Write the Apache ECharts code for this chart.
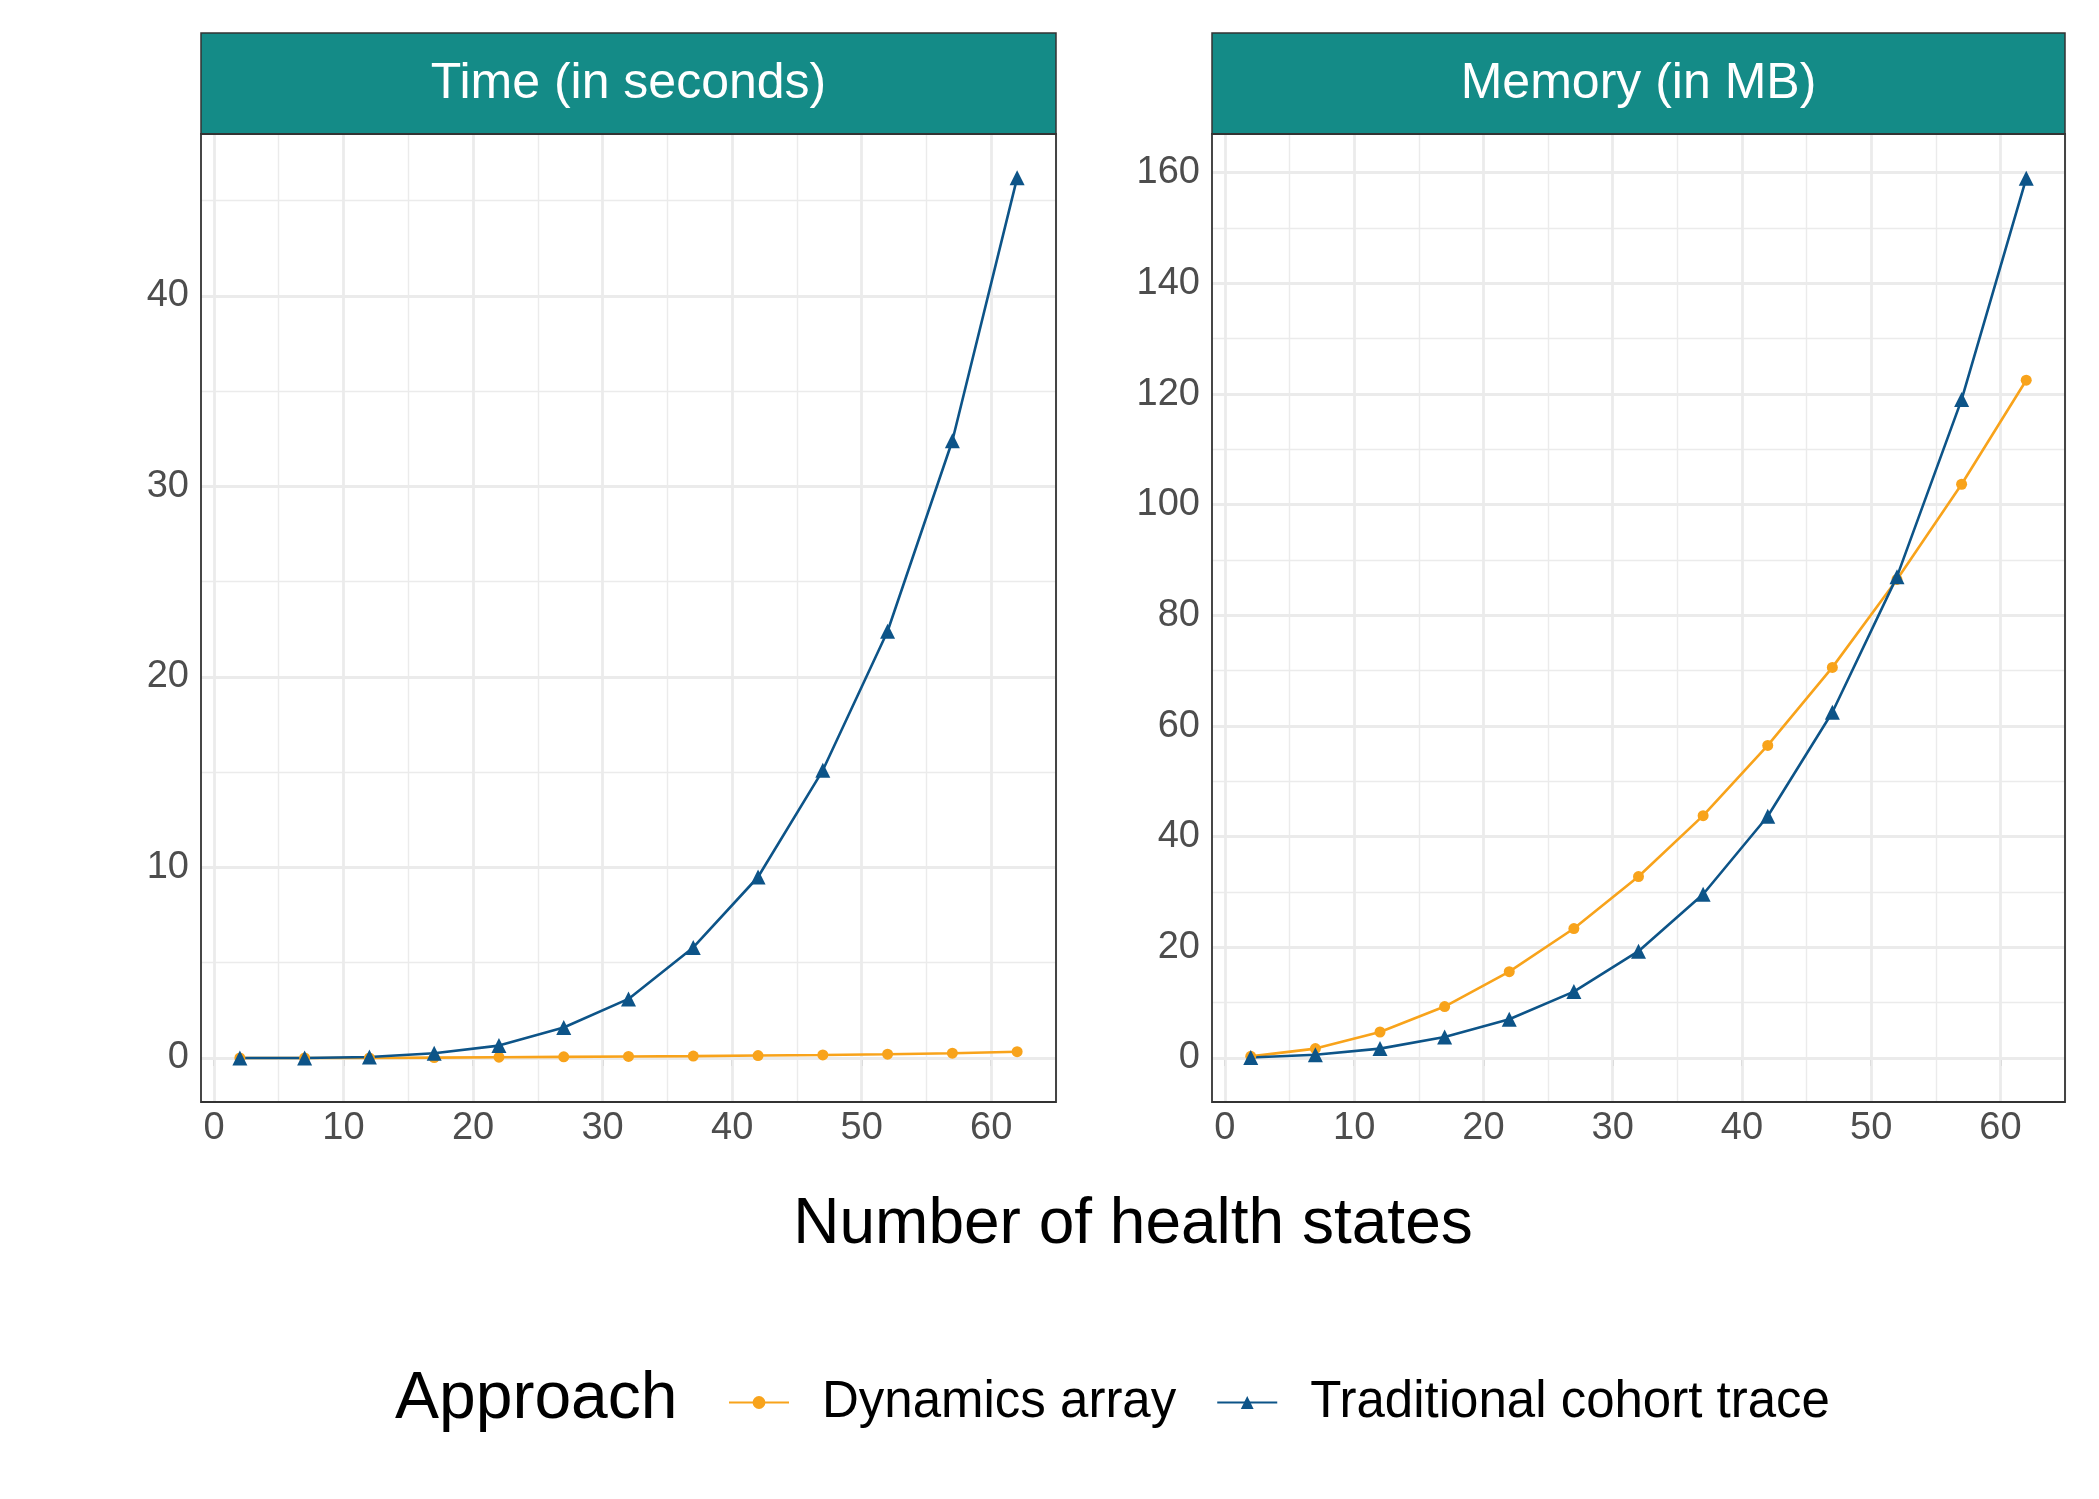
<!DOCTYPE html>
<html><head><meta charset="utf-8">
<script src="https://cdn.jsdelivr.net/npm/echarts@6/dist/echarts.min.js"></script>
<style>html,body{margin:0;background:#fff}#c{width:2099px;height:1499px}</style>
</head><body><div id="c"></div>
<script>
const states = [2,7,12,17,22,27,32,37,42,47,52,57,62];
const timeDyn = [0,0,0,0.02,0.04,0.06,0.08,0.1,0.13,0.16,0.2,0.25,0.33];
const timeTrad = [0,0,0.05,0.25,0.65,1.6,3.1,5.8,9.5,15.1,22.4,32.4,46.2];
const memDyn = [0.3,1.7,4.7,9.3,15.6,23.4,32.8,43.8,56.5,70.6,86.5,103.7,122.5];
const memTrad = [0.1,0.6,1.7,3.8,7,12,19.3,29.6,43.7,62.5,87,119,159];
const xTicks = [0,10,20,30,40,50,60];
const xMinor = [5,15,25,35,45,55,65];
const timeTicks = [0,10,20,30,40];
const timeMinor = [5,15,25,35,45];
const memTicks = [0,20,40,60,80,100,120,140,160];
const memMinor = [10,30,50,70,90,110,130,150];
const panelTitles = ['Time (in seconds)','Memory (in MB)'];
const ORANGE='#F8A31B', BLUE='#0D5488', STRIP='#148B87';
const pair=(xs,ys)=>xs.map((x,i)=>[x,ys[i]]);
const grids=[{left:201,top:134,width:855,height:968},{left:1212,top:134,width:853,height:968}];
const yr=[[-2.31,48.5],[-7.95,167]];
const yT=[timeTicks,memTicks], yM=[timeMinor,memMinor];
const lab={fontSize:38,color:'#4D4D4D',fontFamily:'Liberation Sans'};
const xAxes=[],yAxes=[],series=[];
grids.forEach((g,i)=>{
  xAxes.push({type:'value',gridIndex:i,min:-1,max:65,axisLabel:Object.assign({customValues:xTicks,margin:8},lab),axisTick:{show:true,customValues:xTicks,length:8,lineStyle:{color:'#333',width:1.6}},axisLine:{show:false},splitLine:{show:false}});
  yAxes.push({type:'value',gridIndex:i,min:yr[i][0],max:yr[i][1],axisLabel:Object.assign({customValues:yT[i],margin:12},lab),axisTick:{show:true,customValues:yT[i],length:8,lineStyle:{color:'#333',width:1.6}},axisLine:{show:false},splitLine:{show:false}});
  const ml=[];
  xMinor.forEach(v=>ml.push({xAxis:v,lineStyle:{color:'#EBEBEB',width:1.4,type:'solid'}}));
  yM[i].forEach(v=>ml.push({yAxis:v,lineStyle:{color:'#EBEBEB',width:1.4,type:'solid'}}));
  xTicks.forEach(v=>ml.push({xAxis:v,lineStyle:{color:'#EBEBEB',width:2.8,type:'solid'}}));
  yT[i].forEach(v=>ml.push({yAxis:v,lineStyle:{color:'#EBEBEB',width:2.8,type:'solid'}}));
  series.push({type:'line',xAxisIndex:i,yAxisIndex:i,data:[],z:1,markLine:{silent:true,symbol:'none',label:{show:false},animation:false,data:ml}});
});
const mk=(name,data,i,color,sym,size)=>({name,type:'line',data,xAxisIndex:i,yAxisIndex:i,color,symbol:sym,symbolSize:size,showSymbol:true,lineStyle:{width:2.6,color},itemStyle:{color},animation:false,z:5});
series.push(mk('Dynamics array',pair(states,timeDyn),0,ORANGE,'circle',11),mk('Traditional cohort trace',pair(states,timeTrad),0,BLUE,'triangle',15),
mk('Dynamics array',pair(states,memDyn),1,ORANGE,'circle',11),mk('Traditional cohort trace',pair(states,memTrad),1,BLUE,'triangle',15));
const graphic=[];
grids.forEach((g,i)=>{
  graphic.push({type:'rect',shape:{x:g.left,y:33,width:g.width,height:101},style:{fill:STRIP,stroke:'#333',lineWidth:1.5},z:10});
  graphic.push({type:'text',x:g.left+g.width/2,y:84,style:{text:panelTitles[i],fill:'#fff',font:'50px Liberation Sans',textAlign:'center',textVerticalAlign:'middle'},z:11});
  graphic.push({type:'rect',shape:{x:g.left,y:g.top,width:g.width,height:g.height},style:{fill:'none',stroke:'#333',lineWidth:1.8},z:10});
});
graphic.push({type:'text',x:1133,y:1225,style:{text:'Number of health states',fill:'#000',font:'64px Liberation Sans',textAlign:'center',textVerticalAlign:'middle'}});
graphic.push({type:'text',x:395,y:1400,style:{text:'Approach',fill:'#000',font:'66px Liberation Sans',textAlign:'left',textVerticalAlign:'middle'}});
const chart=echarts.init(document.getElementById('c'));
chart.setOption({animation:false,grid:grids,xAxis:xAxes,yAxis:yAxes,series,graphic,
 legend:{left:723,top:1372,itemWidth:60,itemHeight:16,itemGap:40,data:['Dynamics array','Traditional cohort trace'],textStyle:{fontSize:51,color:'#000',fontFamily:'Liberation Sans',padding:[0,0,0,28]}}});
</script></body></html>
